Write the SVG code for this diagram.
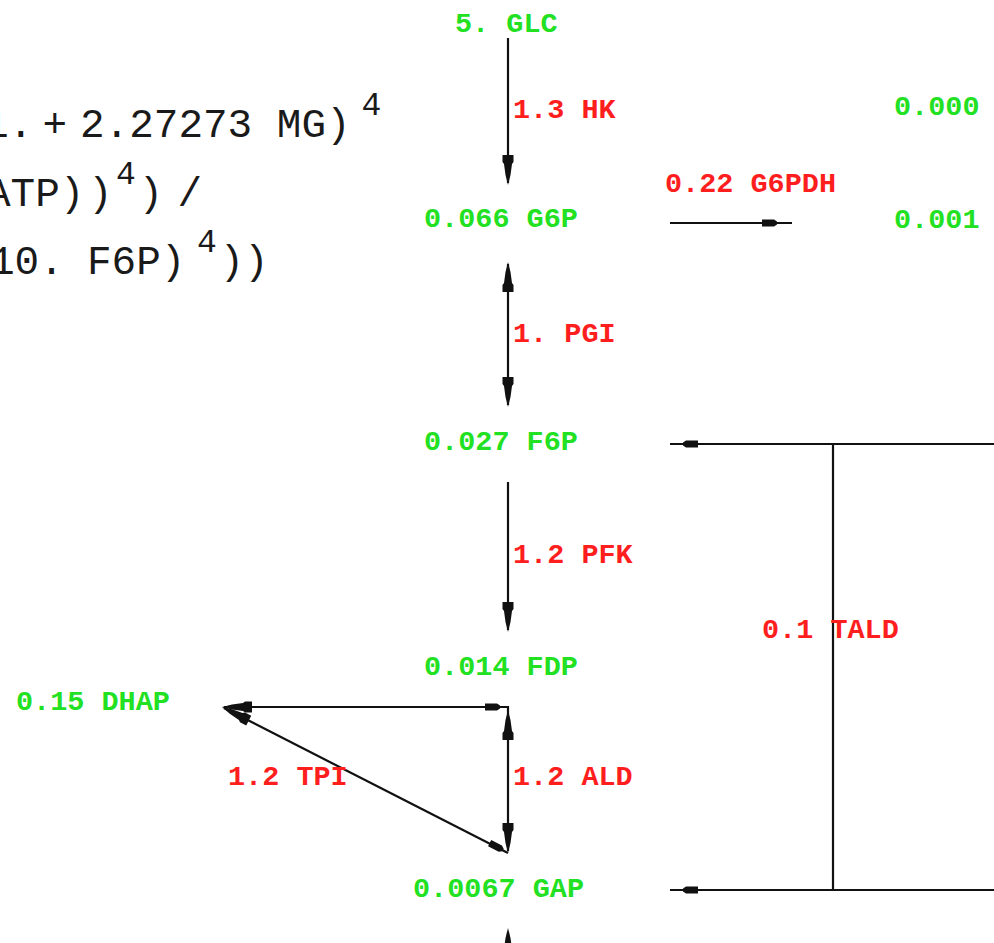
<svg xmlns="http://www.w3.org/2000/svg" xmlns:xlink="http://www.w3.org/1999/xlink" width="994" height="943" viewBox="0 0 994 943">
  <style>
    .met { font-family: "Liberation Mono", "Courier New", monospace; font-size: 28.5px; font-weight: bold; fill: #22e022; }
    .rxn { font-family: "Liberation Mono", "Courier New", monospace; font-size: 28.5px; font-weight: bold; fill: #ff1e1e; }
    .law { font-family: "Liberation Mono", "Courier New", monospace; font-size: 41px; fill: #1a1a1a; }
    .sup { font-size: 33px; }
    .edge { stroke: #111; stroke-width: 2.2; fill: none; }
    .head { fill: #111; stroke: none; }
  </style>
  <defs>
    <!-- pointed arrowhead, tip at origin, pointing along +x -->
    <path id="ah" d="M0,0 L-10,-2.5 L-21,-4 L-23,-5.5 L-30,-5.5 L-30,5.5 L-23,5.5 L-21,4 L-10,2.5 Z"/>
    <!-- short block arrowhead, tip at origin, pointing along +x -->
    <path id="blk" d="M0,-1.5 L-3,-3.5 L-15,-3.5 L-15,3.5 L-3,3.5 L0,1.5 Z"/>
  </defs>

  <rect width="994" height="943" fill="#ffffff"/>

  <!-- rate law fragment -->
  <g id="rate-law" class="law">
    <text y="137"><tspan x="-16">1.</tspan><tspan x="42.5">+</tspan><tspan x="80">2.27273 MG)</tspan><tspan class="sup" x="361.6" y="115">4</tspan></text>
    <text y="206"><tspan x="-14">ATP)</tspan><tspan x="88">)</tspan><tspan class="sup" x="116" y="184">4</tspan><tspan x="138.5" y="206">)</tspan><tspan x="177.5">/</tspan></text>
    <text y="274"><tspan x="-10">10.</tspan><tspan x="87">F6P)</tspan><tspan class="sup" x="197" y="252">4</tspan><tspan x="219.5" y="274">))</tspan></text>
  </g>

  <!-- reactions -->
  <g id="connectors">
    <!-- HK -->
    <line class="edge" x1="508" y1="38" x2="508" y2="183"/>
    <use href="#ah" class="head" transform="translate(508,185) rotate(90)"/>
    <!-- G6PDH -->
    <line class="edge" x1="670" y1="223" x2="792" y2="223"/>
    <use href="#blk" class="head" transform="translate(777,223)"/>
    <!-- PGI -->
    <line class="edge" x1="508" y1="264" x2="508" y2="405"/>
    <use href="#ah" class="head" transform="translate(508,262) rotate(-90)"/>
    <use href="#ah" class="head" transform="translate(508,407) rotate(90)"/>
    <!-- PFK -->
    <line class="edge" x1="508" y1="482" x2="508" y2="630"/>
    <use href="#ah" class="head" transform="translate(508,632) rotate(90)"/>
    <!-- TALD -->
    <polyline class="edge" points="994,444 670,444"/>
    <polyline class="edge" points="994,890 670,890"/>
    <line class="edge" x1="833" y1="444" x2="833" y2="890"/>
    <use href="#blk" class="head" transform="translate(683,444) rotate(180)"/>
    <use href="#blk" class="head" transform="translate(683,890) rotate(180)"/>
    <!-- ALD: FDP to DHAP and GAP -->
    <polyline class="edge" points="224,707 508,707 508,851"/>
    <use href="#ah" class="head" transform="translate(222,707) rotate(180)"/>
    <use href="#blk" class="head" transform="translate(500,707)"/>
    <use href="#ah" class="head" transform="translate(508,710) rotate(-90)"/>
    <use href="#ah" class="head" transform="translate(508,853) rotate(90)"/>
    <!-- TPI -->
    <line class="edge" x1="224" y1="708" x2="508" y2="853" stroke-width="1.8"/>
    <use href="#ah" class="head" transform="translate(222,707) rotate(207)"/>
    <use href="#blk" class="head" transform="translate(503,850) rotate(27)"/>
    <!-- GAP onward -->
    <line class="edge" x1="508" y1="932" x2="508" y2="943"/>
    <use href="#ah" class="head" transform="translate(508,928) rotate(-90)"/>
  </g>

  <!-- enzyme labels -->
  <g id="reaction-labels" class="rxn">
    <text x="513" y="118">1.3 HK</text>
    <text x="665" y="192">0.22 G6PDH</text>
    <text x="513" y="342">1. PGI</text>
    <text x="513" y="563">1.2 PFK</text>
    <text x="762" y="638">0.1 TALD</text>
    <text x="228" y="785">1.2 TPI</text>
    <text x="513" y="785">1.2 ALD</text>
  </g>

  <!-- metabolites -->
  <g id="node-glc" class="met"><text x="455" y="32">5. GLC</text></g>
  <g id="node-g6p" class="met"><text x="424" y="227">0.066 G6P</text></g>
  <g id="node-ru5p" class="met"><text x="894" y="115">0.000</text></g>
  <g id="node-6pg" class="met"><text x="894" y="228">0.001</text></g>
  <g id="node-f6p" class="met"><text x="424" y="450">0.027 F6P</text></g>
  <g id="node-fdp" class="met"><text x="424" y="675">0.014 FDP</text></g>
  <g id="node-dhap" class="met"><text x="16" y="710">0.15 DHAP</text></g>
  <g id="node-gap" class="met"><text x="413" y="897">0.0067 GAP</text></g>
</svg>
